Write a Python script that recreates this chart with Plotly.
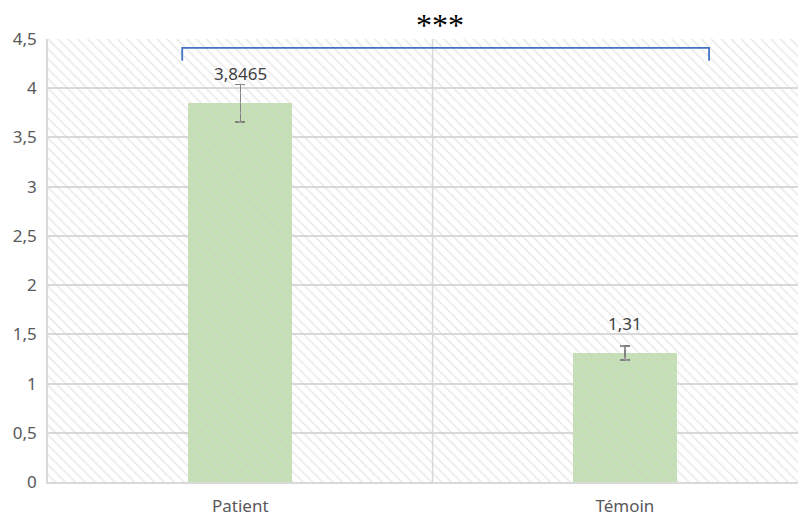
import plotly.graph_objects as go

categories = ["Patient", "Témoin"]
means = [3.8465, 1.31]
errors = [0.19, 0.07]
y_ticks = [0, 0.5, 1, 1.5, 2, 2.5, 3, 3.5, 4, 4.5]
x_pos = list(range(len(categories)))

fig = go.Figure()

# hatched plot-area background
fig.add_trace(go.Scatter(
    x=[-0.5, 1.5, 1.5, -0.5, -0.5], y=[0, 0, 4.5, 4.5, 0],
    mode="none", fill="toself", fillcolor="rgba(0,0,0,0)",
    fillpattern=dict(shape="\\", fgcolor="#cfcfcf", bgcolor="rgba(0,0,0,0)", size=7, solidity=0.2),
    hoverinfo="skip", showlegend=False))

fig.add_trace(go.Bar(
    x=x_pos, y=means, width=0.27, marker=dict(color="#c5e0b4", line=dict(width=0)),
    error_y=dict(type="data", array=errors, visible=True, color="#7f7f7f", thickness=1.5, width=5),
    showlegend=False))

for xi, v in zip(x_pos, means):
    fig.add_annotation(x=xi, y=v, text=str(v).replace(".", ","), showarrow=False,
                       yanchor="bottom", yshift=16, font=dict(family="Noto Sans", size=17, color="#404040"))

# category separator
fig.add_shape(type="line", x0=0.5, x1=0.5, y0=0, y1=4.5, xref="x", yref="y",
              line=dict(color="#d9d9d9", width=1.5), layer="below")

# significance bracket
bx0, bx1, by_top, by_end = -0.151, 1.219, 4.41, 4.28
fig.add_shape(type="path", xref="x", yref="y",
              path=f"M {bx0},{by_end} L {bx0},{by_top} L {bx1},{by_top} L {bx1},{by_end}",
              line=dict(color="#4472c4", width=1.8))
fig.add_annotation(x=0.518, y=1 + (39 - 25) / 443, xref="x", yref="paper", text="***", showarrow=False,
                   yanchor="middle", height=26, valign="middle",
                   font=dict(family="Liberation Serif", size=32, color="black"))

# page body has an 8px margin, so the figure is offset by (8, 8)
fig.update_layout(
    width=798, height=508, margin=dict(l=40, r=0, t=31, b=34, autoexpand=False),
    paper_bgcolor="white", plot_bgcolor="white", separators=", ",
    bargap=0,
    xaxis=dict(range=[-0.5, 1.471], tickvals=x_pos, ticktext=categories, showgrid=False,
               zeroline=False, showline=True, linecolor="#d9d9d9", linewidth=1.5, automargin=False,
               ticks="outside", ticklen=8, tickcolor="rgba(0,0,0,0)",
               tickfont=dict(family="Noto Sans", size=17, color="#595959")),
    yaxis=dict(range=[0, 4.5], tickvals=y_ticks, showgrid=True, gridcolor="#d9d9d9", gridwidth=1.5,
               zeroline=False, showline=True, linecolor="#d9d9d9", linewidth=1.5, automargin=False,
               ticks="outside", ticklen=6, tickcolor="rgba(0,0,0,0)",
               tickfont=dict(family="Noto Sans", size=17, color="#595959")),
)

fig.write_html("out.html")
